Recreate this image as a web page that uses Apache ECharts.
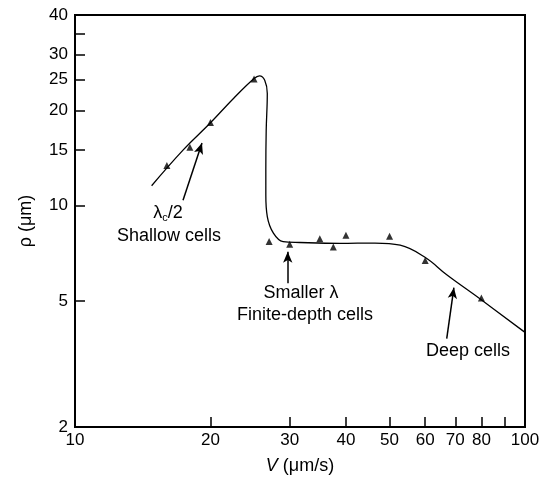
<!DOCTYPE html>
<html lang="en">
<head>
  <meta charset="UTF-8" />
  <title>rho vs V</title>
  <script src="https://cdn.jsdelivr.net/npm/echarts@6.0.0/dist/echarts.min.js"></script>
</head>
<body style="margin:0;background:#fff;">
  <div id="main" style="width: 544px; height: 483px;"></div>
  <script type="text/javascript">
    // measured points (triangles)
    let pointV = [16, 18, 20, 25, 27, 30, 35, 37.5, 40, 50, 60, 80];
    let pointRho = [13.4, 15.3, 18.3, 25.1, 7.7, 7.55, 7.86, 7.4, 8.07, 8.0, 6.71, 5.11];

    // hand-drawn fit curve
    let curveV = [14.8, 17.4, 19.95, 22.5, 25.0, 25.7, 26.4, 26.75, 26.6, 26.55, 26.55, 26.75, 27.6, 29.0, 31.6, 38.8, 46.4, 52.8, 59.95, 67.0, 79.4, 100];
    let curveRho = [11.56, 15.0, 18.2, 21.8, 25.2, 25.7, 24.9, 22.6, 17.3, 12.97, 10.8, 9.24, 8.19, 7.7, 7.65, 7.6, 7.62, 7.5, 6.87, 6.05, 5.08, 3.98];

    // ticks and labels
    let xTicks = [10, 20, 30, 40, 50, 60, 70, 80, 90, 100];
    let xLabels = [10, 20, 30, 40, 50, 60, 70, 80, 100];
    let yTicks = [2, 5, 10, 15, 20, 25, 30, 35, 40];
    let yLabels = [2, 5, 10, 15, 20, 25, 30, 40];

    // arrows: [tailV, tailRho, headV, headRho]
    let arrows = [
      [17.38, 10.4, 19.15, 15.76],
      [29.7, 5.69, 29.7, 7.15],
      [67.0, 3.80, 69.5, 5.51]
    ];

    let font = 'Liberation Sans, Arial, sans-serif';

    var myChart = echarts.init(document.getElementById('main'));

    let pointData = pointV.map((v, i) => [v, pointRho[i]]);
    let curveData = curveV.map((v, i) => [v, curveRho[i]]);
    let arrowData = arrows.map(a => [{ coord: [a[0], a[1]] }, { coord: [a[2], a[3]] }]);

    myChart.setOption({
      animation: false,
      grid: {
        left: 75, top: 15, right: 19, bottom: 56,
        show: true, borderColor: '#000', borderWidth: 2
      },
      xAxis: {
        type: 'log', logBase: 10, min: 10, max: 100,
        name: '{i|V} (μm/s)',
        nameLocation: 'middle',
        nameGap: 30,
        nameTextStyle: {
          fontSize: 18, fontFamily: font, color: '#000',
          rich: { i: { fontStyle: 'italic', fontSize: 18, fontFamily: font, color: '#000' } }
        },
        axisLine: { lineStyle: { color: '#000', width: 2 } },
        axisTick: { inside: true, length: 10, customValues: xTicks, lineStyle: { color: '#000', width: 1.5 } },
        axisLabel: { customValues: xLabels, fontSize: 17, fontFamily: font, color: '#000', margin: 5 },
        splitLine: { show: false }
      },
      yAxis: {
        type: 'log', logBase: 10, min: 2, max: 40,
        name: 'ρ (μm)',
        nameLocation: 'middle',
        nameGap: 40,
        nameTextStyle: { fontSize: 18, fontFamily: font, color: '#000' },
        axisLine: { lineStyle: { color: '#000', width: 2 } },
        axisTick: { inside: true, length: 10, customValues: yTicks, lineStyle: { color: '#000', width: 1.5 } },
        axisLabel: { customValues: yLabels, fontSize: 17, fontFamily: font, color: '#000', margin: 7 },
        splitLine: { show: false }
      },
      series: [
        {
          name: 'fit',
          type: 'line',
          data: curveData,
          smooth: 0.4,
          showSymbol: false,
          lineStyle: { color: '#000', width: 1.3 },
          silent: true
        },
        {
          name: 'points',
          type: 'scatter',
          data: pointData,
          symbol: 'triangle',
          symbolSize: 7,
          itemStyle: { color: '#000' },
          markLine: {
            silent: true,
            symbol: ['none', 'arrow'],
            symbolSize: [7, 11],
            label: { show: false },
            lineStyle: { color: '#000', width: 1.5, type: 'solid' },
            data: arrowData
          }
        }
      ],
      graphic: [
        {
          type: 'text', x: 168, y: 213,
          style: {
            text: '{a|λ}{s|c}{a|/2}', align: 'center', verticalAlign: 'middle',
            rich: {
              a: { fontSize: 18, fontFamily: font, fill: '#000' },
              s: { fontSize: 11, fontFamily: font, fill: '#000', padding: [9, 0, 0, 0] }
            }
          }
        },
        { type: 'text', x: 169, y: 236, style: { text: 'Shallow cells', fontSize: 18, fontFamily: font, fill: '#000', align: 'center', verticalAlign: 'middle' } },
        { type: 'text', x: 301, y: 293, style: { text: 'Smaller λ', fontSize: 18, fontFamily: font, fill: '#000', align: 'center', verticalAlign: 'middle' } },
        { type: 'text', x: 305, y: 315, style: { text: 'Finite-depth cells', fontSize: 18, fontFamily: font, fill: '#000', align: 'center', verticalAlign: 'middle' } },
        { type: 'text', x: 468, y: 351, style: { text: 'Deep cells', fontSize: 18, fontFamily: font, fill: '#000', align: 'center', verticalAlign: 'middle' } }
      ]
    });
  </script>
</body>
</html>
